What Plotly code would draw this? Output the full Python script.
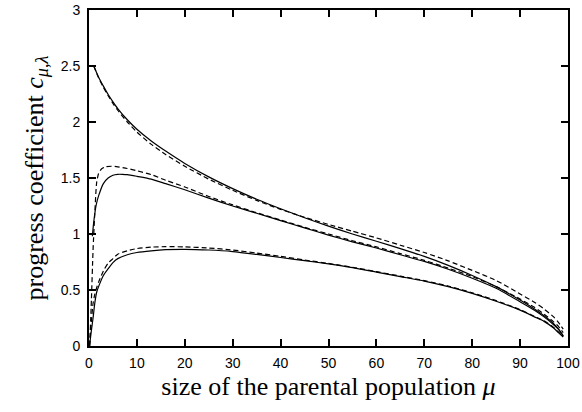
import plotly.graph_objects as go

# top pair (solid / dashed)
mu_a = [1, 2, 3, 4, 5, 6, 8, 10, 13, 16, 20, 25, 30, 35, 40, 45, 50, 55, 60, 65, 70, 75, 80, 85, 90, 93, 95, 97, 98, 99]
c_a = [2.50, 2.40, 2.32, 2.245, 2.18, 2.12, 2.02, 1.935, 1.83, 1.74, 1.63, 1.51, 1.405, 1.31, 1.225, 1.145, 1.07, 1.00, 0.935, 0.87, 0.80, 0.72, 0.63, 0.53, 0.41, 0.33, 0.27, 0.20, 0.15, 0.09]
c_a_approx = [2.50, 2.395, 2.31, 2.235, 2.165, 2.105, 2.00, 1.91, 1.80, 1.71, 1.605, 1.49, 1.39, 1.30, 1.22, 1.15, 1.085, 1.025, 0.965, 0.90, 0.835, 0.76, 0.675, 0.585, 0.465, 0.39, 0.33, 0.26, 0.21, 0.15]

# middle pair
mu_b = [0.7, 1, 1.5, 2, 3, 4, 5, 6, 7, 8, 10, 13, 16, 20, 25, 30, 35, 40, 45, 50, 55, 60, 65, 70, 75, 80, 85, 90, 93, 95, 97, 98, 99]
c_b = [0.98, 1.11, 1.26, 1.34, 1.45, 1.50, 1.525, 1.533, 1.533, 1.53, 1.515, 1.49, 1.45, 1.395, 1.32, 1.25, 1.185, 1.12, 1.055, 0.99, 0.93, 0.875, 0.815, 0.755, 0.685, 0.605, 0.515, 0.395, 0.32, 0.26, 0.19, 0.15, 0.09]
mu_b_approx = [0.15, 0.5, 0.85, 1.2, 1.6, 2, 2.6, 3.5, 4.7, 6, 8, 10, 13, 16, 20, 25, 30, 35, 40, 45, 50, 55, 60, 65, 70, 75, 80, 85, 90, 93, 95, 97, 98, 99]
c_b_approx = [0.0, 0.41, 0.86, 1.18, 1.46, 1.54, 1.58, 1.60, 1.605, 1.60, 1.585, 1.565, 1.53, 1.48, 1.42, 1.335, 1.26, 1.19, 1.125, 1.06, 1.00, 0.94, 0.885, 0.825, 0.765, 0.695, 0.62, 0.53, 0.42, 0.345, 0.285, 0.215, 0.175, 0.12]

# bottom pair
mu_c = [0.1, 0.5, 0.85, 1.2, 1.6, 2, 3, 4, 5, 6, 8, 10, 13, 16, 20, 25, 30, 35, 40, 45, 50, 55, 60, 65, 70, 75, 80, 85, 90, 93, 95, 97, 98, 99]
c_c = [0.0, 0.14, 0.25, 0.38, 0.48, 0.53, 0.63, 0.69, 0.745, 0.78, 0.815, 0.835, 0.85, 0.86, 0.863, 0.857, 0.843, 0.818, 0.79, 0.762, 0.733, 0.70, 0.66, 0.62, 0.58, 0.53, 0.47, 0.40, 0.32, 0.26, 0.22, 0.16, 0.12, 0.08]
c_c_approx = [0.0, 0.22, 0.38, 0.46, 0.52, 0.57, 0.67, 0.74, 0.78, 0.82, 0.85, 0.87, 0.883, 0.887, 0.885, 0.875, 0.857, 0.83, 0.80, 0.768, 0.737, 0.703, 0.664, 0.624, 0.584, 0.535, 0.475, 0.405, 0.325, 0.265, 0.225, 0.165, 0.125, 0.085]

x_ticks = [0, 10, 20, 30, 40, 50, 60, 70, 80, 90, 100]
y_ticks = [0, 0.5, 1, 1.5, 2, 2.5, 3]
y_tick_text = ["0", "0.5", "1", "1.5", "2", "2.5", "3"]
x_range = [0, 100]
y_range = [0, 3]

fig = go.Figure()
solid = dict(color="black", width=1.2)
dashed = dict(color="black", width=1.2, dash="5px,3px")
for x, y, ln in [(mu_a, c_a, solid), (mu_a, c_a_approx, dashed),
                 (mu_b, c_b, solid), (mu_b_approx, c_b_approx, dashed),
                 (mu_c, c_c, solid), (mu_c, c_c_approx, dashed)]:
    fig.add_trace(go.Scatter(x=x, y=y, mode="lines", line=dict(shape="spline", smoothing=0.6, **ln),
                             showlegend=False, hoverinfo="skip"))

# invisible trace to carry the mirrored tick axes (top / right)
fig.add_trace(go.Scatter(x=[x_range[0]], y=[y_range[0]], xaxis="x2", yaxis="y2", mode="markers",
                         marker=dict(opacity=0), showlegend=False, hoverinfo="skip"))

tick_style = dict(ticks="inside", ticklen=7, tickwidth=1.5, tickcolor="black",
                  showgrid=False, zeroline=False, automargin=False)
axis_common = dict(showline=True, linecolor="black", linewidth=2, mirror=True,
                   tickfont=dict(family="Liberation Sans, Arial", size=14, color="black"),
                   **tick_style)

title_font = dict(family="Liberation Serif, Times New Roman", size=26, color="black")

fig.update_layout(
    width=582, height=412,
    margin=dict(l=89, r=14, t=10, b=66),
    paper_bgcolor="white", plot_bgcolor="white",
    xaxis=dict(range=x_range, tickvals=x_ticks, ticklabelstandoff=3,
               title=dict(text="size of the parental population <i>μ</i>",
                          font=title_font, standoff=7),
               **axis_common),
    yaxis=dict(range=y_range, tickvals=y_ticks, ticktext=y_tick_text, ticklabelstandoff=4,
               title=dict(text="progress coefficient <i>c</i><sub><i>μ</i>,<i>λ</i></sub>",
                          font=title_font, standoff=10),
               **axis_common),
    xaxis2=dict(range=x_range, tickvals=x_ticks, overlaying="x", side="top", anchor="y",
                showticklabels=False, showline=False, **tick_style),
    yaxis2=dict(range=y_range, tickvals=y_ticks, overlaying="y", side="right", anchor="x",
                showticklabels=False, showline=False, **tick_style),
)

fig.write_html("out.html", config={"displayModeBar": False},
               post_script="document.body.style.margin='0';")
